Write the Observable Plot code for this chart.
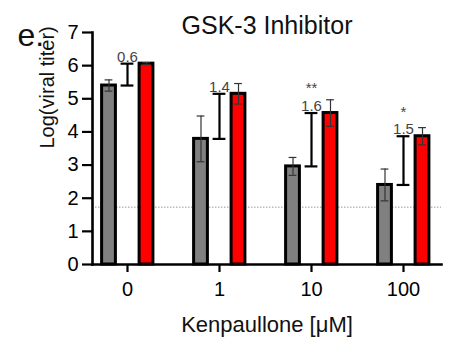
<!DOCTYPE html>
<html><head><meta charset="utf-8">
<script src="https://cdn.jsdelivr.net/npm/d3@7"></script>
<script src="https://cdn.jsdelivr.net/npm/@observablehq/plot@0.6"></script>
<style>body{margin:0;background:#fff;}</style>
</head><body><div id="chart"></div>
<script>
const categories = ["0", "1", "10", "100"];
const grayMean = [5.40, 3.79, 2.96, 2.40];
const grayErr = [0.17, 0.69, 0.27, 0.48];
const redMean = [6.06, 5.15, 4.57, 3.87];
const redErr = [0.03, 0.31, 0.40, 0.26];
const foldLabels = ["0.6", "1.4", "1.6", "1.5"];
const starLabels = ["", "", "**", "*"];
const detectionLimit = [1.73];
const yTicks = [0, 1, 2, 3, 4, 5, 6, 7];

const rows = categories.map((c, i) => ({
  cat: c,
  gray: grayMean[i], grayLo: grayMean[i] - grayErr[i], grayHi: grayMean[i] + grayErr[i],
  red: redMean[i], redLo: redMean[i] - redErr[i], redHi: redMean[i] + redErr[i],
  label: starLabels[i] ? starLabels[i] + "\n" + foldLabels[i] : foldLabels[i]
}));

const font = "'Liberation Sans', Arial, Helvetica, sans-serif";
const gdx = -18.5, rdx = 19;
const barInset = 39.1, capInset = 42.1, bracketInset = 39.6;

const chart = Plot.plot({
  width: 467, height: 355,
  marginLeft: 92, marginRight: 26, marginTop: 32, marginBottom: 91,
  style: {fontFamily: font, color: "#000", background: "#fff"},
  x: {type: "band", domain: categories, range: [80.9, 449.6], padding: 0},
  y: {domain: [0, 7]},
  marks: [
    Plot.ruleY(detectionLimit, {stroke: "#9a9a9a", strokeWidth: 1, strokeDasharray: "1.5,1.5"}),
    Plot.barY(rows, {x: "cat", y: "gray", dx: gdx, insetLeft: barInset, insetRight: barInset, fill: "#808080", stroke: "#000", strokeWidth: 3}),
    Plot.barY(rows, {x: "cat", y: "red", dx: rdx, insetLeft: barInset, insetRight: barInset, fill: "#ff0000", stroke: "#000", strokeWidth: 3}),
    Plot.ruleX(rows, {x: "cat", y1: "grayLo", y2: "grayHi", dx: gdx, stroke: "#333", strokeWidth: 1.2}),
    Plot.tickY(rows, {x: "cat", y: "grayHi", dx: gdx, insetLeft: capInset, insetRight: capInset, stroke: "#333", strokeWidth: 1.2}),
    Plot.tickY(rows, {x: "cat", y: "grayLo", dx: gdx, insetLeft: capInset, insetRight: capInset, stroke: "#333", strokeWidth: 1.2}),
    Plot.ruleX(rows, {x: "cat", y1: "redLo", y2: "redHi", dx: rdx, stroke: "#333", strokeWidth: 1.2}),
    Plot.tickY(rows, {x: "cat", y: "redHi", dx: rdx, insetLeft: capInset, insetRight: capInset, stroke: "#333", strokeWidth: 1.2}),
    Plot.tickY(rows, {x: "cat", y: "redLo", dx: rdx, insetLeft: capInset, insetRight: capInset, stroke: "#333", strokeWidth: 1.2}),
    Plot.ruleX(rows, {x: "cat", y1: "gray", y2: "red", stroke: "#000", strokeWidth: 2.2}),
    Plot.tickY(rows, {x: "cat", y: "gray", insetLeft: bracketInset, insetRight: bracketInset, stroke: "#000", strokeWidth: 2.2}),
    Plot.tickY(rows, {x: "cat", y: "red", insetLeft: bracketInset, insetRight: bracketInset, stroke: "#000", strokeWidth: 2.2}),
    Plot.text(rows, {x: "cat", y: "red", text: "label", lineAnchor: "bottom", lineHeight: 1.17, dy: -2, fontSize: 15, fill: "#444"}),
    Plot.axisY({ticks: yTicks, tickFormat: "d", tickSize: 10, tickPadding: 4, fontSize: 20, strokeWidth: 2.2, label: null}),
    Plot.axisX({tickSize: 8, tickPadding: 9, fontSize: 20, strokeWidth: 2.2, label: null}),
    Plot.frame({anchor: "left", strokeWidth: 2.6}),
    Plot.frame({anchor: "bottom", strokeWidth: 2.6}),
    Plot.text(["GSK-3 Inhibitor"], {frameAnchor: "top", dy: 1, lineAnchor: "bottom", fontSize: 25, fill: "#111"}),
    Plot.text(["e."], {frameAnchor: "top-left", dx: -75, dy: 13, textAnchor: "start", lineAnchor: "bottom", fontSize: 32, fill: "#111"}),
    Plot.text(["Log(viral titer)"], {frameAnchor: "left", dx: -45, rotate: -90, lineAnchor: "middle", fontSize: 20, fill: "#111"}),
    Plot.text(["Kenpaullone [μM]"], {frameAnchor: "bottom", dy: 67, lineAnchor: "bottom", fontSize: 22, fill: "#111"})
  ]
});
document.getElementById("chart").appendChild(chart);
</script>
</body></html>
